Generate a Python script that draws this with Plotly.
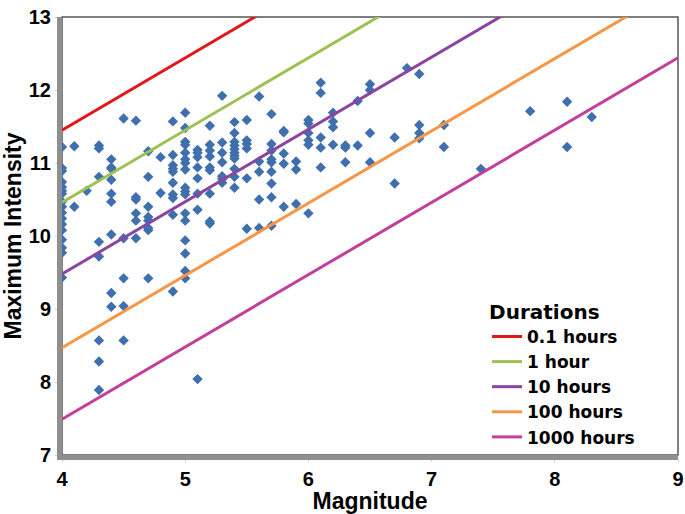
import plotly.graph_objects as go

# ---- data ----
magnitude = (
    [4.0] * 17 + [4.1] * 2 + [4.2] * 1 + [4.3] * 8 + [4.4] * 9 + [4.5] * 5 +
    [4.6] * 6 + [4.7] * 8 + [4.8] * 2 + [4.9] * 10 + [5.0] * 17 + [5.1] * 8 +
    [5.2] * 9 + [5.3] * 7 + [5.4] * 11 + [5.5] * 6 + [5.6] * 5 + [5.7] * 9 +
    [5.8] * 5 + [5.9] * 3 + [6.0] * 6 + [6.1] * 5 + [6.2] * 4 + [6.3] * 3 +
    [6.4] * 2 + [6.5] * 4 + [6.7] * 2 + [6.8] * 1 + [6.9] * 4 + [7.1] * 2 +
    [7.4] * 1 + [7.8] * 1 + [8.1] * 2 + [8.3] * 1
)
intensity = [
    11.22, 10.93, 10.89, 10.74, 10.67, 10.62, 10.58, 10.47, 10.40, 10.32, 10.24, 10.16, 10.08, 9.95, 9.84, 9.77, 9.43,
    11.23, 10.40,
    10.62,
    11.24, 11.20, 10.81, 9.92, 9.72, 8.57, 8.28, 7.89,
    11.05, 10.94, 10.92, 10.77, 10.58, 10.47, 10.02, 9.22, 9.03,
    11.61, 9.97, 9.42, 9.04, 8.57,
    11.58, 10.53, 10.50, 10.31, 10.21, 9.97,
    11.16, 10.81, 10.40, 10.26, 10.21, 10.11, 10.08, 9.42,
    11.08, 10.59,
    11.57, 11.11, 10.97, 10.92, 10.88, 10.73, 10.57, 10.52, 10.29, 9.24,
    11.69, 11.48, 11.29, 11.25, 11.14, 11.05, 11.00, 10.91, 10.66, 10.61, 10.57, 10.31, 10.21, 9.94, 9.76, 9.52, 9.42,
    11.18, 11.14, 11.08, 10.94, 10.79, 10.58, 10.36, 8.04,
    11.51, 11.25, 11.17, 11.09, 10.94, 10.90, 10.58, 10.20, 10.17,
    11.92, 11.28, 11.14, 11.01, 10.82, 10.78, 10.73,
    11.56, 11.41, 11.29, 11.24, 11.19, 11.14, 11.10, 11.06, 10.92, 10.81, 10.66,
    11.59, 11.31, 11.26, 11.20, 10.79, 10.10,
    11.91, 11.02, 10.88, 10.50, 10.11,
    11.67, 11.26, 11.17, 11.05, 11.01, 10.88, 10.72, 10.53, 10.14,
    11.44, 11.42, 11.13, 10.99, 10.40,
    11.02, 10.91, 10.44,
    11.59, 11.54, 11.41, 11.31, 11.25, 10.31,
    12.10, 11.96, 11.35, 11.21, 10.94,
    11.69, 11.57, 11.49, 11.25,
    11.24, 11.21, 11.01,
    11.85, 11.24,
    12.08, 12.00, 11.41, 11.01,
    11.35, 10.72,
    12.30,
    12.22, 11.52, 11.41, 11.34,
    11.52, 11.22,
    10.92,
    11.71,
    11.84, 11.22,
    11.63,
]

duration_labels = ["0.1 hours", "1 hour", "10 hours", "100 hours", "1000 hours"]
intensity_at_m4 = [11.45, 10.46, 9.48, 8.47, 7.49]   # line value at magnitude 4
line_slope = 0.99                                     # intensity per unit magnitude
line_colors = ["#e2171c", "#9dc153", "#8b45a0", "#f79646", "#c2409b"]
line_magnitudes = [4, 9]

x_ticks = [4, 5, 6, 7, 8, 9]
y_ticks = [7, 8, 9, 10, 11, 12, 13]

# ---- figure ----
fig = go.Figure()

fig.add_trace(go.Scatter(
    x=magnitude, y=intensity, mode="markers",
    marker=dict(symbol="diamond", size=8, color="#3f6fad"),
    showlegend=False, hoverinfo="x+y",
))

for label, b4, col in zip(duration_labels, intensity_at_m4, line_colors):
    ys = [b4 + line_slope * (m - 4) for m in line_magnitudes]
    fig.add_trace(go.Scatter(
        x=line_magnitudes, y=ys, mode="lines", name=label,
        line=dict(color=col, width=3),
    ))

FAM = "Liberation Sans, Arial, sans-serif"
LEG_FAM = "DejaVu Sans, Liberation Sans, Arial, sans-serif"
tick_font = dict(family=FAM, size=20, color="black", weight="bold")
title_font = dict(family=FAM, size=23, color="black", weight="bold")

fig.update_layout(
    template="none",
    width=685, height=514,
    margin=dict(l=62, r=7, t=17, b=59),
    paper_bgcolor="white", plot_bgcolor="white",
    showlegend=True,
    xaxis=dict(
        range=[4, 9], tickvals=x_ticks, showgrid=False, zeroline=False,
        automargin=False,
        showline=True, linecolor="#8f8f8f", linewidth=5,
        ticks="outside", ticklen=2, tickcolor="#cccccc", tickwidth=1,
        tickfont=tick_font,
        title=dict(text="Magnitude", font=title_font, standoff=1),
    ),
    yaxis=dict(
        range=[7, 13], tickvals=y_ticks, showgrid=False, zeroline=False,
        automargin=False,
        showline=True, linecolor="#8f8f8f", linewidth=5,
        ticks="outside", ticklen=2, tickcolor="#cccccc", tickwidth=1,
        tickfont=tick_font,
        title=dict(text="Maximum Intensity", font=title_font, standoff=5),
    ),
    legend=dict(
        x=0.69, y=0.37, xanchor="left", yanchor="top",
        bgcolor="rgba(0,0,0,0)", borderwidth=0,
        font=dict(family=LEG_FAM, size=17, color="black", weight="bold"),
        title=dict(text="Durations", font=dict(family=LEG_FAM, size=20, color="black", weight="bold")),
        tracegroupgap=0, itemwidth=30,
    ),
    shapes=[dict(
        type="rect", xref="paper", yref="paper", x0=0, x1=1, y0=0, y1=1,
        line=dict(color="#555555", width=1.5), layer="below",
    )],
)

fig.write_html(
    "out.html",
    config={"displayModeBar": False},
    post_script="document.body.style.margin='0';document.body.style.padding='0';",
)
